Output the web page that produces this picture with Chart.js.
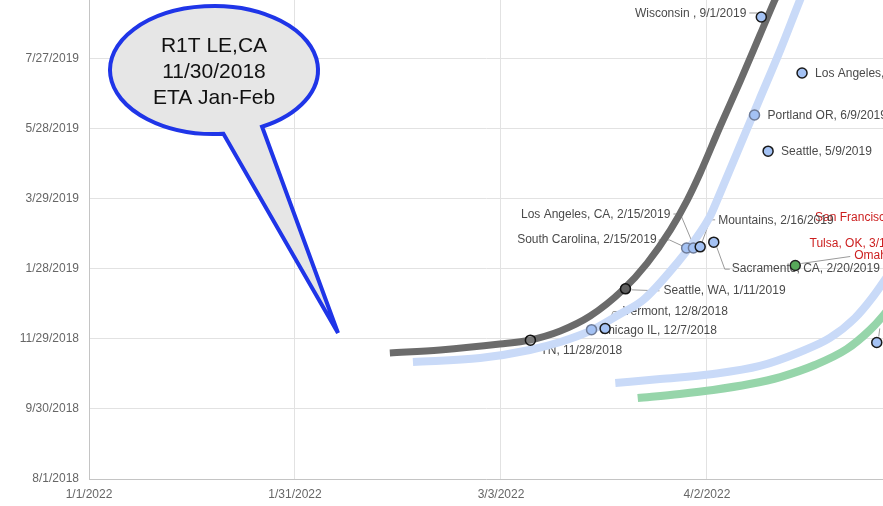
<!DOCTYPE html>
<html>
<head>
<meta charset="utf-8">
<script src="https://cdn.jsdelivr.net/npm/chart.js@4.4.1/dist/chart.umd.min.js"></script>
<style>
  html, body { margin: 0; padding: 0; background: #fff; }
  #chart { display: block; }
</style>
</head>
<body>
<canvas id="chart" width="883" height="506"></canvas>
<script>
// Axis tick labels (x: delivery date, y: reservation date)
const xTickLabels = ['1/1/2022', '1/31/2022', '3/3/2022', '4/2/2022'];
const yTickLabels = ['8/1/2018', '9/30/2018', '11/29/2018', '1/28/2019', '3/29/2019', '5/28/2019', '7/27/2019'];

// Reservations, dark series
const darkNames = ['TN, 11/28/2018', 'Seattle, WA, 1/11/2019'];
const darkX = ['2022-03-07', '2022-03-21'];
const darkY = ['2018-11-28', '2019-01-11'];

// Reservations, blue series
const blueNames = ['Vermont, 12/8/2018', 'Mountains, 2/16/2019', 'Sacramento, CA, 2/20/2019',
  'Wisconsin , 9/1/2019', 'Seattle, 5/9/2019', 'Los Angeles, CA, 7/15/2019', ''];
const blueX = ['2022-03-18', '2022-04-01', '2022-04-03', '2022-04-10', '2022-04-11', '2022-04-16', '2022-04-27'];
const blueY = ['2018-12-08', '2019-02-16', '2019-02-20', '2019-09-01', '2019-05-09', '2019-07-15', '2018-11-26'];

// Reservations, pale blue series
const paleNames = ['Chicago IL, 12/7/2018', 'South Carolina, 2/15/2019', 'Los Angeles, CA, 2/15/2019', 'Portland OR, 6/9/2019'];
const paleX = ['2022-03-16', '2022-03-30', '2022-03-31', '2022-04-09'];
const paleY = ['2018-12-07', '2019-02-15', '2019-02-15', '2019-06-09'];

// Green series
const greenNames = ['Omaha, NE, 1/31/2019'];
const greenX = ['2022-04-15'];
const greenY = ['2019-01-31'];

// Red series (just past the right edge)
const redNames = ['San Francisco, CA, 3/10/2019', 'Tulsa, OK, 3/15/2019'];
const redX = ['2022-05-05', '2022-05-03'];
const redY = ['2019-03-10', '2019-03-15'];

// Trendlines: x = days after 1/1/2022, y = days after 8/1/2018
const grayTrendX = [44.3, 51.7, 60.5, 64.9, 69.4, 73.8, 78.6, 82.2, 85.6, 88.1, 90.0, 92.9, 95.9, 98.8, 101.0, 102.2];
const grayTrendY = [108.0, 110.6, 115.7, 119.1, 126.9, 139.7, 162.0, 185.1, 213.4, 239.1, 262.3, 301.7, 341.1, 380.6, 410.6, 426.0];
const blueTrendX = [47.7, 57.6, 64.9, 69.4, 73.8, 78.2, 81.6, 86.6, 88.9, 91.4, 92.5, 95.6, 98.7, 101.8, 104.7, 105.9];
const blueTrendY = [100.3, 103.7, 110.6, 117.4, 126.9, 141.4, 153.4, 185.1, 202.3, 224.6, 239.1, 282.0, 324.9, 367.7, 410.6, 427.7];
const blue2TrendX = [77.5, 84.1, 91.9, 98.8, 104.7, 109.1, 112.8, 115.3, 118.0];
const blue2TrendY = [82.3, 85.7, 90.0, 96.9, 108.9, 120.9, 138.0, 155.1, 177.4];
const greenTrendX = [80.8, 87.0, 91.9, 97.3, 101.8, 106.9, 111.6, 115.0, 116.9, 118.7];
const greenTrendY = [69.4, 72.9, 76.3, 81.4, 87.4, 97.7, 111.4, 127.7, 139.7, 153.4];

const DAY = 86400000;
const X0 = Date.UTC(2022, 0, 1);
const Y0 = Date.UTC(2018, 7, 1);
const isoDay = (s, origin) => { const [y, m, d] = s.split('-').map(Number); return (Date.UTC(y, m - 1, d) - origin) / DAY; };
const mdyDay = (s, origin) => { const [m, d, y] = s.split('/').map(Number); return (Date.UTC(y, m - 1, d) - origin) / DAY; };

const pts = (xs, ys) => xs.map((x, i) => ({ x: isoDay(x, X0), y: isoDay(ys[i], Y0) }));
const line = (xs, ys) => xs.map((x, i) => ({ x, y: ys[i] }));

// x ticks are evenly spaced between the first and last label
const xLast = mdyDay(xTickLabels[xTickLabels.length - 1], X0);
const xTickVals = xTickLabels.map((_, i) => i * xLast / (xTickLabels.length - 1));
const yTickVals = yTickLabels.map(s => mdyDay(s, Y0));

// label placement relative to the point (px); default is right of the dot
const placement = {
  'TN, 11/28/2018': { dx: 10, dy: 11, leader: [[0, 6], [2, 11], [7, 11]] },
  'Chicago IL, 12/7/2018': { dx: 8, dy: 1 },
  'Vermont, 12/8/2018': { dx: 18, dy: -17, leader: [[3, -5], [8, -17], [14, -17]] },
  'Seattle, WA, 1/11/2019': { dx: 38, dy: 2, leader: [[6, 1], [34, 2]] },
  'South Carolina, 2/15/2019': { dx: -30, dy: -8, align: 'right', leader: [[-28, -8], [-17, -8], [-2, -1]] },
  'Los Angeles, CA, 2/15/2019': { dx: -23, dy: -33, align: 'right', leader: [[-20, -34], [-13, -34], [0, -3]] },
  'Mountains, 2/16/2019': { dx: 18, dy: -26, leader: [[2, -5], [10, -27], [15, -27]] },
  'Sacramento, CA, 2/20/2019': { dx: 18, dy: 27, leader: [[3, 5], [11, 27], [16, 27]] },
  'Wisconsin , 9/1/2019': { dx: -15, dy: -3, align: 'right', leader: [[-12, -4], [-4, -4]] },
  'Omaha, NE, 1/31/2019': { dx: 59, dy: -10, leader: [[6, -2], [55, -9]] },
  'San Francisco, CA, 3/10/2019': { dx: -116, dy: -3 },
  'Tulsa, OK, 3/15/2019': { dx: -108, dy: 28 },
  '': { leader: [[2, -6], [3, -14]] },
};

const FONT = 'Arial, "Liberation Sans", sans-serif';

const pointLabels = {
  id: 'pointLabels',
  beforeDatasetsDraw(chart) {
    const { ctx } = chart;
    ctx.save();
    ctx.font = '12px ' + FONT;
    ctx.textBaseline = 'middle';
    chart.data.datasets.forEach((ds, di) => {
      if (!ds.names) return;
      const meta = chart.getDatasetMeta(di);
      meta.data.forEach((pt, i) => {
        const text = ds.names[i];
        const p = placement[text] || {};
        if (p.leader) {
          ctx.strokeStyle = '#9a9a9a';
          ctx.lineWidth = 1;
          ctx.beginPath();
          p.leader.forEach(([lx, ly], k) => {
            if (k === 0) ctx.moveTo(pt.x + lx, pt.y + ly);
            else ctx.lineTo(pt.x + lx, pt.y + ly);
          });
          ctx.stroke();
        }
        if (!text) return;
        ctx.fillStyle = ds.labelColor;
        ctx.textAlign = p.align || 'left';
        ctx.fillText(text, pt.x + (p.dx ?? 13), pt.y + (p.dy ?? 1));
      });
    });
    ctx.restore();
  },
};

// speech bubble annotation
const bubble = {
  id: 'bubble',
  afterDraw(chart) {
    const { ctx } = chart;
    const cx = 214, cy = 70, rx = 104, ry = 64;
    ctx.save();
    ctx.beginPath();
    ctx.ellipse(cx, cy, rx, ry, 0, 1.48, 1.09);
    ctx.lineTo(338, 333);
    ctx.closePath();
    ctx.fillStyle = '#e6e6e6';
    ctx.fill();
    ctx.lineWidth = 4;
    ctx.lineJoin = 'miter';
    ctx.strokeStyle = '#1f35e8';
    ctx.stroke();
    ctx.fillStyle = '#111';
    ctx.font = '21px ' + FONT;
    ctx.textAlign = 'center';
    ctx.textBaseline = 'middle';
    ['R1T LE,CA', '11/30/2018', 'ETA Jan-Feb'].forEach((t, i) => ctx.fillText(t, cx, 46 + i * 26));
    ctx.restore();
  },
};

const trend = (data, color, width) => ({
  data, showLine: true, borderColor: color, borderWidth: width,
  pointRadius: 0, pointHoverRadius: 0, cubicInterpolationMode: 'monotone', order: 2,
});
const dots = (names, data, fill, border, labelColor) => ({
  names, data, labelColor, backgroundColor: fill, borderColor: border,
  borderWidth: 1.5, pointRadius: 5, showLine: false, order: 1,
});

new Chart(document.getElementById('chart'), {
  type: 'scatter',
  data: {
    datasets: [
      dots(redNames, pts(redX, redY), '#e06666', '#222', '#cc1f1f'),
      dots(greenNames, pts(greenX, greenY), '#57a85a', '#222', '#cc1f1f'),
      dots(blueNames, pts(blueX, blueY), '#a4c2f4', '#1a1a1a', '#4a4a4a'),
      dots(paleNames, pts(paleX, paleY), '#a4c2f4', '#6f7c98', '#4a4a4a'),
      dots(darkNames, pts(darkX, darkY), ['rgba(150,150,150,0.35)', '#5f5f5f'], '#111', '#4a4a4a'),
      trend(line(grayTrendX, grayTrendY), '#6b6b6b', 7),
      trend(line(blueTrendX, blueTrendY), '#c9daf8', 8),
      trend(line(blue2TrendX, blue2TrendY), '#c9daf8', 8),
      trend(line(greenTrendX, greenTrendY), '#96d5aa', 8),
    ],
  },
  options: {
    responsive: false,
    animation: false,
    devicePixelRatio: 1,
    layout: { padding: 0, autoPadding: false },
    plugins: { legend: { display: false }, tooltip: { enabled: false } },
    scales: {
      x: {
        type: 'linear',
        min: 0,
        max: 116.92,
        afterBuildTicks: s => { s.ticks = xTickVals.map(value => ({ value })); },
        afterFit: s => { s.height = 27; s.paddingLeft = 0; s.paddingRight = 0; },
        ticks: {
          callback: (v, i) => xTickLabels[i],
          color: '#666', font: { family: FONT, size: 12 }, padding: 8, maxRotation: 0,
        },
        grid: { color: '#e2e2e2', drawTicks: false },
        border: { color: '#c4c4c4' },
      },
      y: {
        type: 'linear',
        min: 0,
        max: 410.57,
        afterBuildTicks: s => { s.ticks = yTickVals.map(value => ({ value })); },
        afterFit: s => { s.width = 89; s.paddingTop = 0; s.paddingBottom = 0; },
        ticks: {
          callback: (v, i) => yTickLabels[i],
          color: '#666', font: { family: FONT, size: 12 }, padding: 10,
        },
        grid: { color: '#e2e2e2', drawTicks: false },
        border: { color: '#c4c4c4' },
      },
    },
  },
  plugins: [pointLabels, bubble],
});
</script>
</body>
</html>
